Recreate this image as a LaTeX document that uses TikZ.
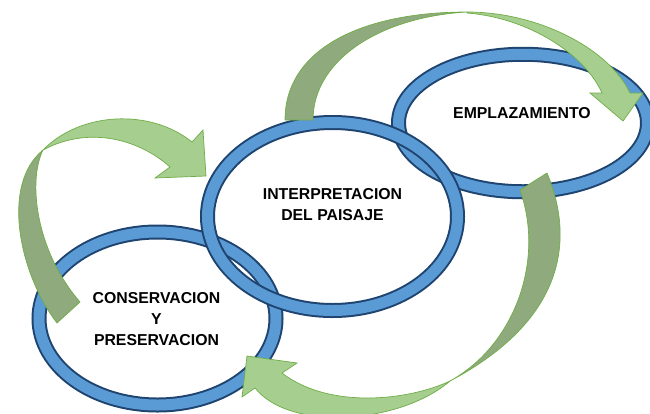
\documentclass[tikz,border=0pt]{standalone}
\usepackage{fontspec}
\setmainfont{Liberation Sans}
\usetikzlibrary{shapes.geometric}
\definecolor{ringblue}{RGB}{91,155,213}
\definecolor{ringdark}{RGB}{31,68,112}
\definecolor{arrdark}{RGB}{143,170,125}
\definecolor{arrlight}{RGB}{165,206,143}
\definecolor{arredge}{RGB}{112,173,71}
\begin{document}
\begin{tikzpicture}[x=1pt,y=-1pt,
  ring/.style={ellipse, inner sep=0pt, draw=ringdark, line width=2pt,
               double=ringblue, double distance=11pt},
  label/.style={font=\fontsize{15.8}{20.8}\selectfont\bfseries, align=center,
                inner sep=0pt, text=black},
  backside/.style={fill=arrdark, draw=arredge, line width=0.7pt, line join=round},
  frontside/.style={fill=arrlight, draw=arredge, line width=0.7pt, line join=miter}]
\useasboundingbox (0,0) rectangle (650,413);

% rings
\node[ring, minimum width=249pt, minimum height=137.5pt] (r2) at (523,123) {};
\node[ring, minimum width=237pt, minimum height=173pt] (r3) at (157.5,318.5) {};
\node[ring, minimum width=250pt, minimum height=188pt] (r1) at (332.5,216.5) {};

% labels
\node[label] (t1) at (332.5,204.5) {INTERPRETACION\\DEL PAISAJE};
\node[label] (t2) at (522,113.5) {EMPLAZAMIENTO};
\node[label] (t3) at (156.5,319) {CONSERVACION\\Y\\PRESERVACION};

% top arrow (interpretacion -> emplazamiento)
\path[backside] (285,120) .. controls (285,50) and (360,12) .. (467,12)
  .. controls (380,17) and (313,60) .. (313,120) -- cycle;
\path[frontside] (467,12) .. controls (540,12) and (610,50) .. (630,93)
  -- (643,93) -- (623,121) -- (590,93) -- (602,93)
  .. controls (585,55) and (530,18) .. (467,13) -- cycle;

% right arrow (emplazamiento -> conservacion)
\path[backside] (547,173) .. controls (575,240) and (565,320) .. (450,381)
  .. controls (515,345) and (545,260) .. (520,190) -- cycle;
\path[frontside] (450,381) .. controls (410,400) and (330,410) .. (282,373)
  -- (297,363) -- (247,356) -- (242,397) -- (255,388)
  .. controls (290,432) and (400,424) .. (450,381) -- cycle;

% left arrow (conservacion -> interpretacion)
\path[backside] (57,323) .. controls (20,275) and (0,185) .. (43,150)
  .. controls (28,180) and (35,250) .. (80,302) -- cycle;
\path[frontside] (43,150) .. controls (80,112) and (150,108) .. (192,142)
  -- (203,130) -- (206,176) -- (155,178) -- (170,167)
  .. controls (140,140) and (90,125) .. (43,150) -- cycle;
\end{tikzpicture}
\end{document}
